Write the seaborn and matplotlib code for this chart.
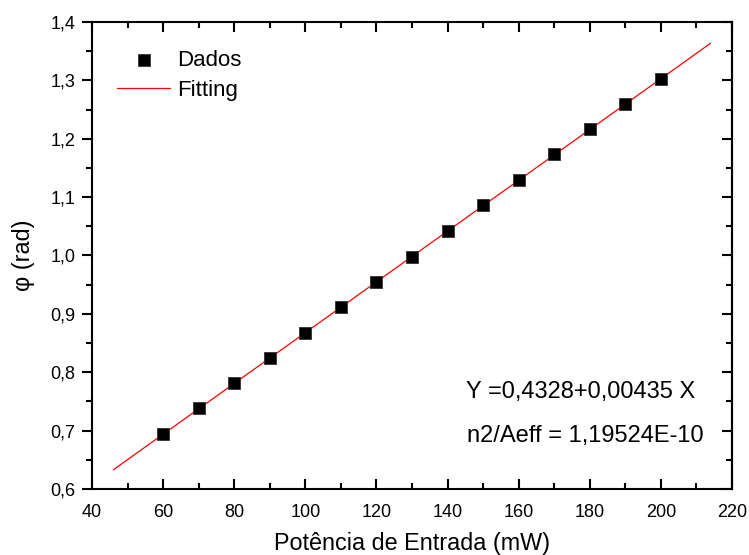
import numpy as np
import pandas as pd
import matplotlib
matplotlib.use("Agg")
import matplotlib.pyplot as plt
from matplotlib.ticker import MultipleLocator, FuncFormatter
import seaborn as sns

# Measured phase shift vs. input power
potencia = [60, 70, 80, 90, 100, 110, 120, 130, 140, 150, 160, 170, 180, 190, 200]
fase = [0.694, 0.738, 0.781, 0.825, 0.868, 0.911, 0.955, 0.998, 1.042, 1.086,
        1.129, 1.173, 1.216, 1.260, 1.303]

# Linear fit coefficients and the span over which the fit is drawn
intercepto = 0.4328
inclinacao = 0.00435
fit_x = [46, 214]

sns.set_style("ticks")
plt.rcParams["font.family"] = ["Liberation Sans", "DejaVu Sans"]
plt.rcParams.update({"text.color": "black", "axes.labelcolor": "black",
                     "xtick.color": "black", "ytick.color": "black",
                     "axes.edgecolor": "black"})

fig = plt.figure(figsize=(7.49, 5.55), dpi=100)
ax = fig.add_axes([0.1228, 0.1189, 0.8545, 0.8415])

dados = pd.DataFrame({"x": potencia, "y": fase})
fit = pd.DataFrame({"x": fit_x, "y": [intercepto + inclinacao * v for v in fit_x]})

sns.lineplot(data=fit, x="x", y="y", ax=ax, color="#ff0000", linewidth=0.9,
             label="Fitting", zorder=2)
sns.scatterplot(data=dados, x="x", y="y", ax=ax, marker="s", s=80, color="black",
                edgecolor="#333333", linewidth=0.6, label="Dados", zorder=3)

ax.set_xlim(40, 220)
ax.set_ylim(0.6, 1.4)
ax.xaxis.set_major_locator(MultipleLocator(20))
ax.xaxis.set_minor_locator(MultipleLocator(10))
ax.yaxis.set_major_locator(MultipleLocator(0.1))
ax.yaxis.set_minor_locator(MultipleLocator(0.05))
ax.yaxis.set_major_formatter(FuncFormatter(lambda v, p: f"{v:.1f}".replace(".", ",")))
ax.xaxis.set_major_formatter(FuncFormatter(lambda v, p: f"{v:.0f}"))

for s in ax.spines.values():
    s.set_linewidth(1.5)
    s.set_color("black")

ax.tick_params(axis="x", which="both", direction="in", top=True, bottom=True,
               width=1.5, labelsize=13, pad=10.5, colors="black")
ax.tick_params(axis="x", which="major", length=7.5)
ax.tick_params(axis="x", which="minor", length=4)
ax.tick_params(axis="y", which="both", direction="out", left=True, right=False,
               width=1.5, labelsize=13, pad=4.5, colors="black")
ax.tick_params(axis="y", which="major", length=7.5)
ax.tick_params(axis="y", which="minor", length=4)

# Inward ticks on the right side
sec = ax.secondary_yaxis("right")
sec.yaxis.set_major_locator(MultipleLocator(0.1))
sec.yaxis.set_minor_locator(MultipleLocator(0.05))
sec.tick_params(which="both", direction="in", width=1.5, labelright=False, colors="black")
sec.tick_params(which="major", length=7.5)
sec.tick_params(which="minor", length=4)
sec.spines["right"].set_linewidth(1.5)
sec.spines["right"].set_color("black")

ax.set_xlabel("Potência de Entrada (mW)", fontsize=16.8, labelpad=8, color="black")
ax.set_ylabel("φ (rad)", fontsize=16.8, labelpad=11, color="black")

handles, labels = ax.get_legend_handles_labels()
order = [labels.index("Dados"), labels.index("Fitting")]
ax.legend([handles[i] for i in order], [labels[i] for i in order],
          loc="upper left", bbox_to_anchor=(0.039, 0.94), frameon=False,
          borderpad=0, borderaxespad=0, labelcolor="black",
          fontsize=16, handlelength=2.4, handletextpad=0.3, labelspacing=0.4)

ax.text(0.942, 0.195, "Y =0,4328+0,00435 X", transform=ax.transAxes,
        ha="right", va="baseline", fontsize=17, color="black")
ax.text(0.955, 0.1006, "n2/Aeff = 1,19524E-10", transform=ax.transAxes,
        ha="right", va="baseline", fontsize=17, color="black")

fig.savefig("out.png", dpi=100)
